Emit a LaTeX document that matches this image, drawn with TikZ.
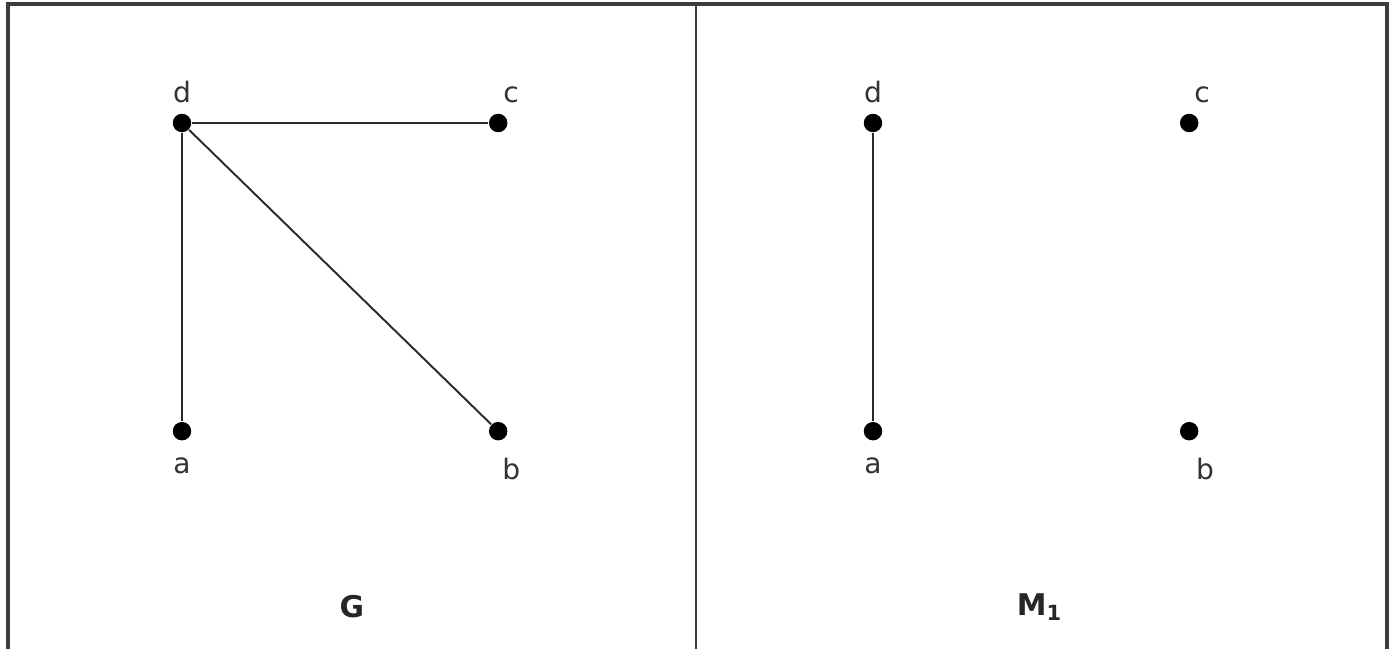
\documentclass[tikz,border=0pt]{standalone}
\usepackage{fontspec}
\setmainfont{DejaVu Sans}
\usepackage{tikz}
\usetikzlibrary{
    positioning
}
\definecolor{FrameGray}{HTML}{3C3C3C}
\definecolor{EdgeGray}{HTML}{2A2A2A}
\definecolor{LabelGray}{HTML}{333333}
\tikzset{
    vertex/.style={
        circle,
        fill=black,
        inner sep=0pt,
        minimum size=17.5pt*0.3,
        label distance=1.5pt,
    },
    link/.style={
        draw=EdgeGray,
        line width=0.55pt,
    },
}

\begin{document}
\begin{tikzpicture}[x=0.01cm,y=-0.01cm]
            \fontsize{8}{10}\selectfont

            \tikzset{
                node distance=3.08cm and 3.16cm,
                on grid,
                every label/.style={text=LabelGray},
                low/.style={yshift=-2pt},
                frame/.style={draw=FrameGray,line width=1pt},
                caption/.style={font=\fontsize{8.5}{10}\selectfont\bfseries,text=black!85},
            }

            \useasboundingbox (0,0) rectangle (1392,649);

            % graph G
            \node[vertex,label=above:d] (gd) at (182,123) {};
            \node[vertex,right=of gd,label={[xshift=3.7pt]above:c}] (gc) {};
            \node[vertex,below=of gd,label={[low]below:a}] (ga) {};
            \node[vertex,below=of gc,label={[low,xshift=3.7pt]below:b}] (gb) {};

            \draw[link] (gd) -- (gc);
            \draw[link] (gd) -- (ga);
            \draw[link] (gd) -- (gb);

            \node[caption] (gname) at (352,607) {G};

            % matching M1
            \node[vertex,label=above:d] (md) at (873,123) {};
            \node[vertex,right=of md,label={[xshift=3.7pt]above:c}] (mc) {};
            \node[vertex,below=of md,label={[low]below:a}] (ma) {};
            \node[vertex,below=of mc,label={[low,xshift=4.5pt]below:b}] (mb) {};

            \draw[link] (md) -- (ma);

            \node[caption] (mname) at (1040,607) {M\textsubscript{1}};

            % table frame
            \draw[frame] (8,649) |- (1387,4) -- (1387,649);
            \draw[frame,line width=0.6pt] (696,4) -- (696,649);
        \end{tikzpicture}
\end{document}
